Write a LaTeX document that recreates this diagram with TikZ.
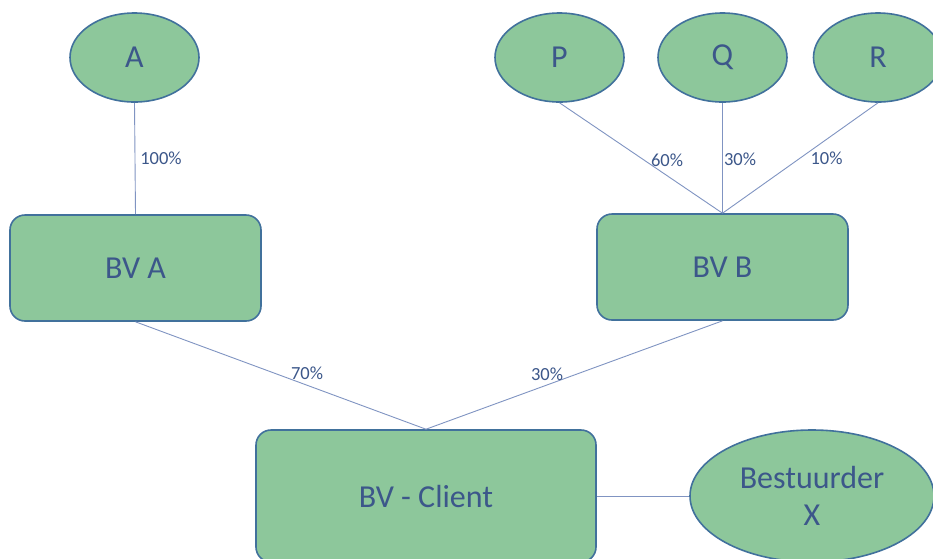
\documentclass[tikz,border=0pt]{standalone}
\usepackage{fontspec}
\setmainfont{Carlito}
\usetikzlibrary{shapes.geometric}
\definecolor{boxfill}{RGB}{141,199,155}
\definecolor{boxedge}{RGB}{65,113,156}
\definecolor{inktext}{RGB}{60,87,138}
\definecolor{linkline}{RGB}{128,148,194}
\tikzset{
  shareholder/.style={ellipse, draw=boxedge, fill=boxfill, line width=1.6pt,
    minimum width=129pt, minimum height=89pt, inner sep=0pt,
    text=inktext, font=\fontsize{32}{37}\selectfont},
  company/.style={rectangle, rounded corners=15pt, draw=boxedge, fill=boxfill,
    line width=1.6pt, minimum width=251pt, minimum height=106pt, inner sep=0pt,
    text=inktext, font=\fontsize{32}{37}\selectfont},
  link/.style={draw=linkline, line width=0.9pt},
  share/.style={text=inktext, font=\fontsize{18.5}{21}\selectfont, inner sep=0pt}
}
\begin{document}
\begin{tikzpicture}[x=1pt,y=-1pt]
  \useasboundingbox (0,0) rectangle (933,558);
  \clip (0,0) rectangle (933,558);
  \fill[white] (0,0) rectangle (933,558);

  % shareholders
  \node[shareholder] (A) at (134.5,57.5) {A};
  \node[shareholder] (P) at (559.5,57.5) {P};
  \node[shareholder] (Q) at (722.5,57.5) {Q};
  \node[shareholder] (R) at (878,57.5) {R};

  % holding companies
  \node[company] (bva) at (135.5,268) {BV A};
  \node[company] (bvb) at (722.5,267) {BV B};

  % client company and director
  \node[company, minimum width=340pt, minimum height=132pt] (client) at (426,496) {BV - Client};
  \node[shareholder, minimum width=244pt, minimum height=132pt, align=center] (dir) at (812,496) {Bestuurder\\X};

  % ownership links
  \draw[link] (A.south) -- (bva.north);
  \draw[link] (P.south) -- (bvb.north);
  \draw[link] (Q.south) -- (bvb.north);
  \draw[link] (R.south) -- (bvb.north);
  \draw[link] (bva.south) -- (client.north);
  \draw[link] (bvb.south) -- (client.north);
  \draw[link] (client.east) -- (dir.west);

  % percentages
  \node[share] (pA) at (161,158) {100\%};
  \node[share] (pP) at (667,160) {60\%};
  \node[share] (pQ) at (740,159) {30\%};
  \node[share] (pR) at (826.5,158) {10\%};
  \node[share] (pBA) at (307,373) {70\%};
  \node[share] (pBB) at (547,374) {30\%};
\end{tikzpicture}
\end{document}
